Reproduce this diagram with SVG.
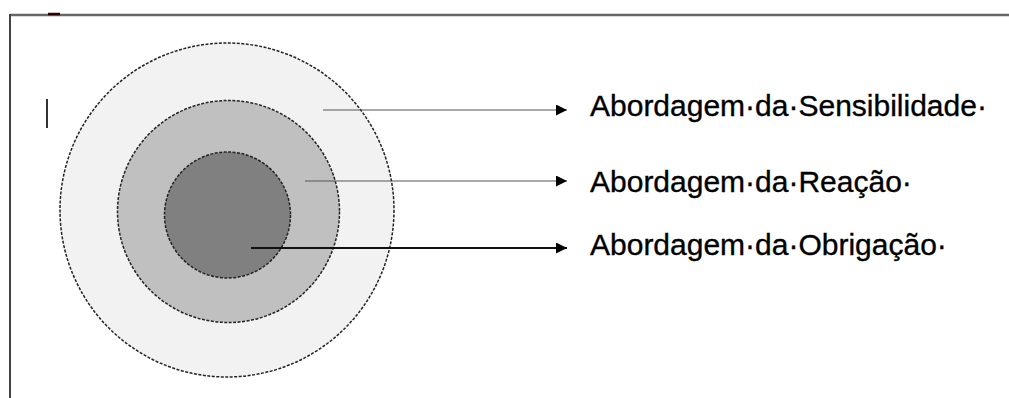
<svg xmlns="http://www.w3.org/2000/svg" width="1009" height="398" viewBox="0 0 1009 398">
<style>
.ring{stroke:#222;stroke-width:1.5;stroke-dasharray:3 1.5}
.lbl{font-family:"Liberation Sans",Arial,sans-serif;font-size:30px;fill:#000;stroke:#000;stroke-width:0.35}
.ln{fill:none}
</style>
<defs>
<marker id="ah" viewBox="0 0 10 10" refX="10" refY="5" markerUnits="userSpaceOnUse" markerWidth="15" markerHeight="11" orient="auto">
<path d="M0,0 L10,5 L0,10 Z" fill="#000"/>
</marker>
</defs>
<rect width="1009" height="398" fill="#fff"/>
<g id="frame">
<line x1="10" y1="15" x2="1009" y2="15" stroke="#666" stroke-width="2.5"/>
<line x1="10" y1="14" x2="10" y2="398" stroke="#444" stroke-width="2"/>
<line x1="48" y1="14" x2="60" y2="14" stroke="#300" stroke-width="2.5"/>
<line x1="47" y1="99" x2="47" y2="128" stroke="#333" stroke-width="2"/>
</g>
<g id="outer"><circle class="ring" cx="227" cy="210" r="167" fill="#f2f2f2"/></g>
<g id="middle"><circle class="ring" cx="228.5" cy="211.5" r="111" fill="#c0c0c0"/></g>
<g id="inner"><circle class="ring" cx="227.5" cy="215" r="63" fill="#808080"/></g>
<g id="connectors">
<line class="ln" x1="323" y1="110" x2="567" y2="110" stroke="#555" stroke-width="1.2" marker-end="url(#ah)"/>
<line class="ln" x1="305" y1="181" x2="567" y2="181" stroke="#555" stroke-width="1.2" marker-end="url(#ah)"/>
<line class="ln" x1="251" y1="248" x2="567" y2="248" stroke="#111" stroke-width="2" marker-end="url(#ah)"/>
</g>
<g id="label-sensibilidade"><text class="lbl" x="590" y="116">Abordagem·da·Sensibilidade·</text></g>
<g id="label-reacao"><text class="lbl" x="590" y="192">Abordagem·da·Reação·</text></g>
<g id="label-obrigacao"><text class="lbl" x="590" y="255">Abordagem·da·Obrigação·</text></g>
</svg>
